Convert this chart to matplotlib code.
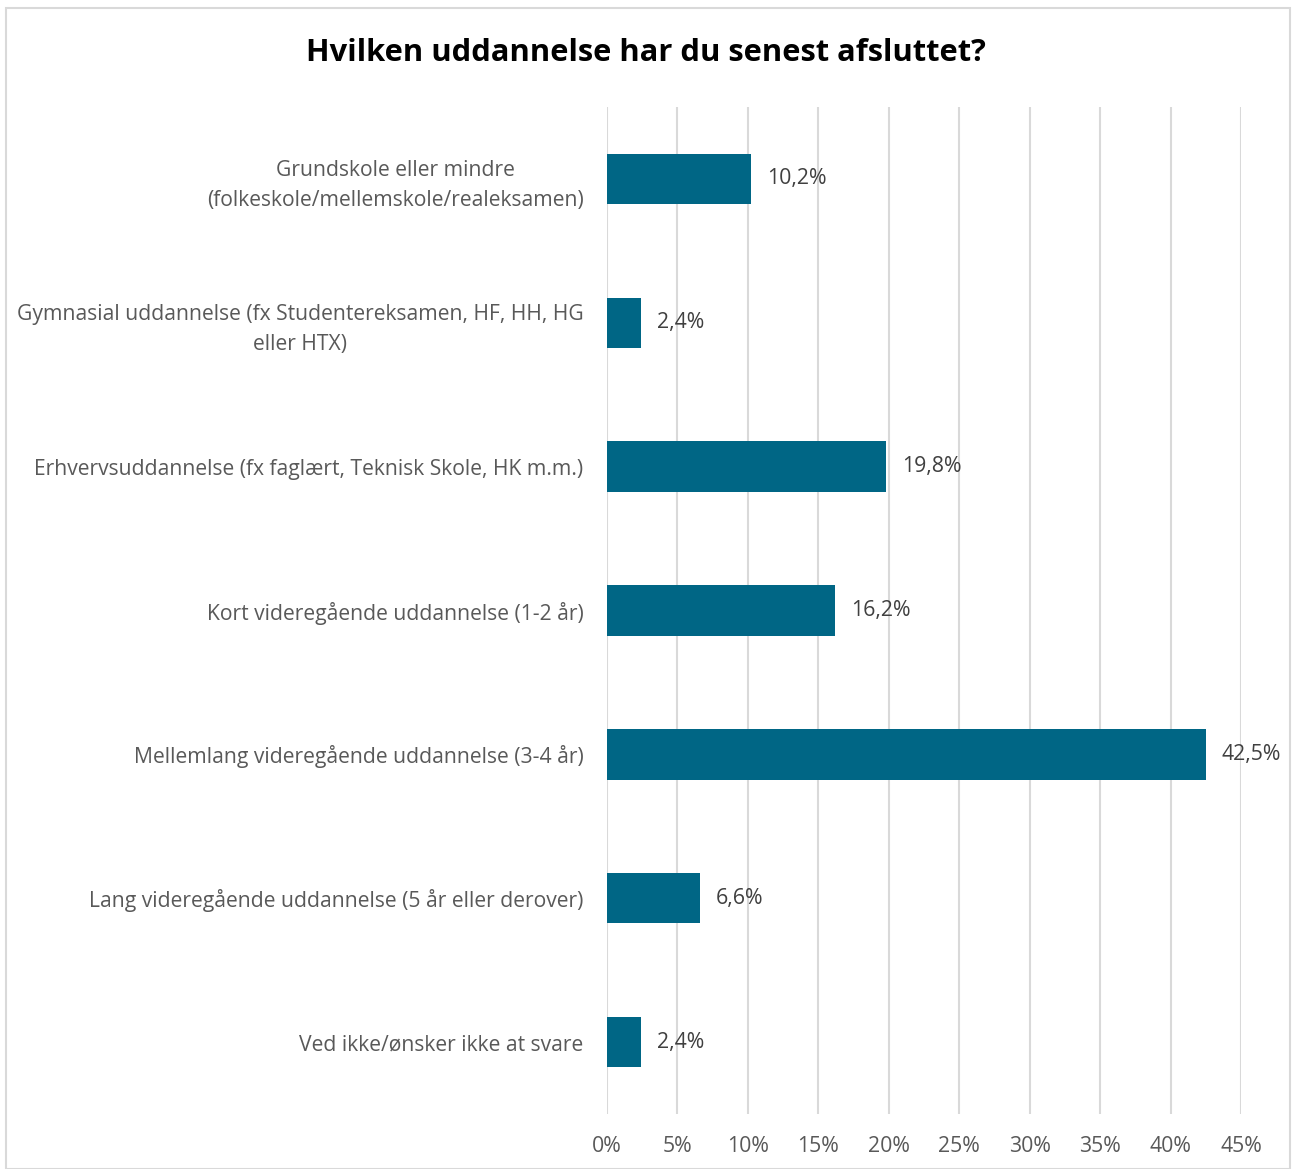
import matplotlib.pyplot as plt
from matplotlib.patches import Rectangle

categories = [
    "Grundskole eller mindre\n(folkeskole/mellemskole/realeksamen)",
    "Gymnasial uddannelse (fx Studentereksamen, HF, HH, HG\neller HTX)",
    "Erhvervsuddannelse (fx faglært, Teknisk Skole, HK m.m.)",
    "Kort videregående uddannelse (1-2 år)",
    "Mellemlang videregående uddannelse (3-4 år)",
    "Lang videregående uddannelse (5 år eller derover)",
    "Ved ikke/ønsker ikke at svare",
]
shares = [10.2, 2.4, 19.8, 16.2, 42.5, 6.6, 2.4]
xticks = [0, 5, 10, 15, 20, 25, 30, 35, 40, 45]

plt.rcParams['font.family'] = ['Open Sans', 'DejaVu Sans']

W, H = 1292, 1169
fig = plt.figure(figsize=(W / 100, H / 100), dpi=100)
ax = fig.add_axes([607 / W, 1 - 1114 / H, (1241 - 607) / W, (1114 - 107) / H])

ypos = list(range(len(categories)))
ax.barh(ypos, shares, height=0.35, color='#006685', zorder=3)
for y, v in zip(ypos, shares):
    ax.text(v + 1.15, y, f"{v:.1f}%".replace('.', ','), va='center', ha='left',
            fontsize=15.3, color='#404040')

ax.set_xlim(0, 45)
ax.set_ylim(len(categories) - 0.5, -0.5)
ax.set_xticks(xticks)
ax.set_xticklabels([f"{t}%" for t in xticks], fontsize=15.3, color='#595959')
ax.set_yticks(ypos)
ax.set_yticklabels(categories, fontsize=15.2, color='#595959', ha='right',
                   multialignment='center', linespacing=1.55)
ax.tick_params(axis='both', length=0)
ax.tick_params(axis='y', pad=17)
ax.tick_params(axis='x', pad=16)
ax.grid(axis='x', color='#D9D9D9', linewidth=1.5, zorder=0)
for s in ax.spines.values():
    s.set_visible(False)

fig.text(0.5, 1 - 53 / H, "Hvilken uddannelse har du senest afsluttet?",
         ha='center', va='center', fontsize=22.2, fontweight='bold', color='black')

fig.patches.append(Rectangle((6 / W, 0), (1290 - 6) / W, 1 - 8 / H,
                             transform=fig.transFigure, fill=False,
                             edgecolor='#D9D9D9', linewidth=1.5))

fig.savefig('out.png', dpi=100)
